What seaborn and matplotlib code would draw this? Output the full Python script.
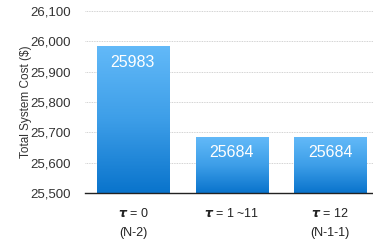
import numpy as np
import pandas as pd
import seaborn as sns
import matplotlib.pyplot as plt
from matplotlib.ticker import FuncFormatter
from matplotlib.colors import LinearSegmentedColormap

# data
cases = ['τ = 0', 'τ = 1 ~11', 'τ = 12']
case_notes = ['(N-2)', '', '(N-1-1)']
costs = [25983, 25684, 25684]

df = pd.DataFrame({'case': cases, 'cost': costs})

sns.set_style('white')
plt.rcParams['font.family'] = ['Liberation Sans', 'DejaVu Sans']

fig = plt.figure(figsize=(3.73, 2.42), dpi=100)
ax = fig.add_axes([0.228, 0.2025, 0.772, 0.752])

sns.barplot(data=df, x='case', y='cost', ax=ax, width=0.73, color='#2b8fe0',
            saturation=1, zorder=2)

ymin, ymax = 25500, 26100
ax.set_ylim(ymin, ymax)
ax.set_xlim(-0.485, 2.434)
ax.set_yticks(np.arange(ymin, ymax + 1, 100))
ax.yaxis.set_major_formatter(FuncFormatter(lambda v, p: f'{int(v):,}'))
ax.grid(axis='y', linestyle=(0, (1, 1)), color='#c4c4c4', linewidth=0.6, zorder=0)
ax.set_axisbelow(True)

# gradient fill for each bar (drawn only over the visible part)
grad = LinearSegmentedColormap.from_list('g', ['#0a74cc', '#3d9ee8', '#62b9f8'])
for bar in ax.patches:
    x0 = bar.get_x()
    w, top = bar.get_width(), bar.get_y() + bar.get_height()
    ax.imshow(np.linspace(0, 1, 100).reshape(-1, 1), cmap=grad, origin='lower',
              extent=[x0, x0 + w, ymin, top], aspect='auto', zorder=2)
    bar.set_visible(False)
ax.set_xlim(-0.485, 2.434)
ax.set_ylim(ymin, ymax)

for i, v in enumerate(costs):
    ax.text(i, v - 52, str(v), ha='center', va='center', color='white',
            fontsize=11.5, zorder=3)

labels = [f'$\\boldsymbol{{\\tau}}${c[1:]}\n{n}' for c, n in zip(cases, case_notes)]
ax.set_xticks(range(len(cases)))
ax.set_xticklabels(labels, fontsize=9, color='#222222', linespacing=1.75)
ax.tick_params(axis='y', labelsize=9.5, colors='#333333', length=0, pad=10)
ax.tick_params(axis='x', length=0, pad=10)

ax.set_xlabel('')
ax.set_ylabel('Total System Cost ($)', fontsize=8.5, color='#333333', labelpad=-1)

for s in ['top', 'right', 'left']:
    ax.spines[s].set_visible(False)
ax.spines['bottom'].set_color('#222222')
ax.spines['bottom'].set_linewidth(1)
ax.spines['bottom'].set_zorder(4)

fig.savefig('out.png', dpi=100)
